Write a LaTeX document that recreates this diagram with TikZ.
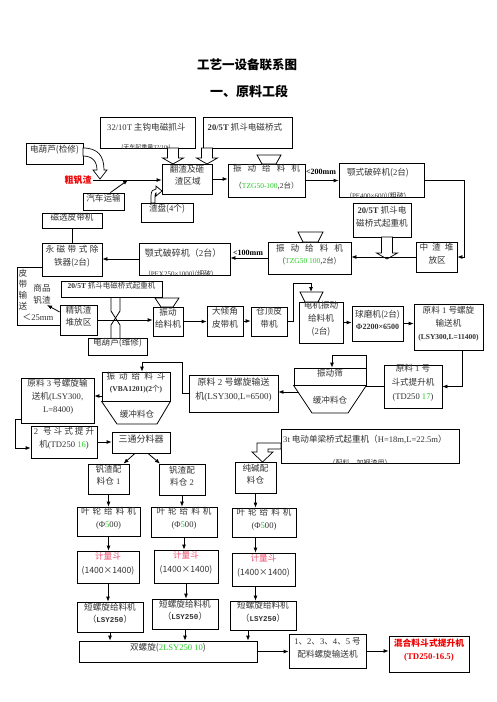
\documentclass[tikz,border=0pt]{standalone}
\usepackage{fontspec}
\setmainfont{Noto Sans CJK SC}
\newfontfamily\en{Liberation Serif}
\newfontfamily\mono{Liberation Mono}
\usetikzlibrary{arrows.meta,fit,calc}
\definecolor{grn}{RGB}{40,205,40}
\definecolor{pnk}{RGB}{238,80,110}
\definecolor{rd}{RGB}{240,0,0}
\definecolor{tx}{RGB}{50,50,50}
\newcommand\fs[2]{\fontsize{#1}{#2}\selectfont}
\newcommand\E[1]{{\en #1}}
\newcommand\G[1]{{\color{grn}#1}}
\newcommand\B[7][]{\node[bx,#1,fit={(#3,#4)(#5,#6)}] (#2) {#7};}
\newcommand\hdown[3]{\draw[hol] (#1-5.5,#2) -- (#1+5.5,#2) -- (#1+5.5,#3-6) -- (#1+10.5,#3-6) -- (#1,#3) -- (#1-10.5,#3-6) -- (#1-5.5,#3-6) -- cycle;}
\tikzset{
 bx/.style={draw, line width=0.8pt, inner sep=0pt, align=center, text=tx, font=\fs{8.6}{13}},
 txt/.style={inner sep=0pt, text=tx, font=\fs{8.6}{13}},
 arr/.style={-{Latex[length=5pt,width=4pt]}, line width=0.8pt},
 ln/.style={line width=0.8pt},
 hol/.style={draw, fill=white, line width=0.7pt},
 hop/.style={draw, fill=white, line width=0.8pt},
}
\begin{document}
\begin{tikzpicture}[x=1pt,y=-1pt]
\fill[white] (0,0) rectangle (496,702);
\useasboundingbox (0,0) rectangle (496,702);

% titles
\node[font=\fs{12.5}{14}\bfseries] (t1) at (247,65) {工艺一设备联系图};
\node[font=\fs{13}{14}\bfseries] (t2) at (249,91) {一、原料工段};

% top row
\B{A}{100}{117}{195}{148}{}
\node[txt,anchor=west] (Atx) at (107,127) {\E{32/10T} 主钩电磁抓斗};
\begin{scope}
\clip (100,117) rectangle (195,148);
\node[font=\fs{6}{7}, text=tx] (Acl) at (146,147.5) {(天车起重量\E{32/10t})};
\end{scope}
\B{B}{203}{117}{292}{148}{}
\node[txt] (Btx) at (245,127) {\E{\bfseries 20/5T} 抓斗电磁桥式};

\B{h1}{26}{143}{83}{164}{电葫芦(检修)}
\node[font=\fs{9}{10}\bfseries, text=rd, inner sep=1pt] (crude) at (78,180) {粗钒渣};
\B{car}{83}{193}{124}{210}{汽车运输}
\B{mb}{42}{213}{102}{228}{磁选皮带机}
\B[align=left, font=\fs{8.6}{12.5}]{flip}{162}{164}{212}{194}{翻渣及砸\\\,渣区域}
\B{pan}{141}{203}{193}{222}{渣盘(\E{4}个)}
\B[font=\fs{8.6}{16.5}]{vf1}{228}{164}{305}{197}{振\hspace{6pt}动\hspace{6pt}给\hspace{6pt}料\hspace{6pt}机\\{\fs{7.5}{9}（\G{\E{TZG50-100}},\E{2}台）}}
\B{jaw1}{339}{163}{424}{197}{}
\node[txt] (j1tx) at (378,173) {颚式破碎机(\E{2}台)};
\begin{scope}
\clip (339,163) rectangle (424,197);
\node[font=\fs{7}{8}, text=tx] (j1cl) at (378,196.5) {(\E{PE400×600})(粗破)};
\end{scope}
\node[font=\fs{8}{9}\en\bfseries, inner sep=0pt] (l200) at (321,172) {<200mm};

\B{cr2}{353}{203}{411}{237}{\E{\bfseries 20/5T} 抓斗电\\磁桥式起重机}
\B[align=left]{pile}{416}{242}{457}{272}{中\hspace{4pt}渣\hspace{4pt}堆\\\,放区}
\B[align=left,font=\fs{8.6}{12.5}]{vf2}{268}{242}{351}{274}{振\hspace{6pt}动\hspace{6pt}给\hspace{6pt}料\hspace{6pt}机\\{\fs{7.5}{9}(\G{\E{TZG50 100}},\E{2}台)}}
\node[font=\fs{8}{9}\en\bfseries, inner sep=0pt] (l100) at (248,253) {<100mm};
\B{jaw2}{139}{243}{230}{275}{}
\node[txt,font=\fs{9}{10}] (j2tx) at (183,253) {颚式破碎机（\E{2}台）};
\begin{scope}
\clip (139,243) rectangle (230,275);
\node[font=\fs{7}{8}, text=tx] (j2cl) at (181,274.5) {(\E{PEX250×1000})(细破)};
\end{scope}
\B{ir}{42}{243}{102}{276}{永\hspace{2.5pt}磁\hspace{2.5pt}带\hspace{2.5pt}式\hspace{2.5pt}除\\铁器(\E{2}台)}

% left column texts
\node[txt, align=center, font=\fs{8.6}{11}] (vt) at (23,290) {皮\\带\\输\\送};
\node[txt, align=center, font=\fs{8.6}{12}] (prod) at (42,294) {商品\\钒渣};
\node[txt, font=\fs{8.6}{10}] (lt25) at (38,317) {＜\E{25mm}};

\B[font=\fs{7.5}{9}]{cr3}{61}{281}{162}{297}{\E{\bfseries 20/5T} 抓斗电磁桥式起重机}
\B[font=\fs{8.6}{12.5}]{fine}{60}{305}{97}{335}{精钒渣\\堆放区}
\B{h2}{88}{338}{147}{355}{电葫芦(维修)}
\B[align=left, font=\fs{8.6}{12}]{vf3}{153}{307}{183}{336}{振动\\给料机}
\B{incl}{207}{306}{243}{336}{大倾角\\皮带机}
\B[align=left]{roof}{251}{307}{287}{336}{仓顶皮\\带机}
\B[align=left]{mvf}{299}{302}{343}{343}{电机振动\\给料机\\(\E{2}台)}
\B[align=left,font=\fs{8.6}{12}]{mill}{352}{306}{403}{341}{球磨机(\E{2}台)\\{\en\bfseries\fs{8}{9}Φ2200×6500}}
\B{sc1}{414}{304}{483}{350}{原料\E{ 1 }号螺旋\\输送机\\{\en\bfseries\fs{7.5}{9}(LSY300,L=11400)}}
\B[align=left,font=\fs{8.6}{14}]{el1}{384}{365}{442}{408}{原料\E{ 1 }号\\斗式提升机\\\E{(TD250 \G{17})}}

\B{scr}{294}{368}{366}{385}{振动筛}
\draw[hop] (scr.south west) -- (scr.south east) -- (348,413) -- (312,413) -- cycle;
\node[txt] (buf1) at (330,400) {缓冲料仓};

\B[align=left,font=\fs{9}{14}]{sc2}{189}{375}{278}{412}{原料\E{ 2 }号螺旋输送\\机\E{(LSY300,L=6500)}}
\B[font=\fs{8.6}{11.5}]{vhop}{102}{372}{170}{401}{振\hspace{4pt}动\hspace{4pt}给\hspace{4pt}料\hspace{4pt}斗\\{\fs{7.5}{9}\E{\bfseries(VBA1201)(2}个\E{\bfseries)}}}
\draw[hop] (vhop.south west) -- (vhop.south east) -- (157,424) -- (117,424) -- cycle;
\node[txt] (buf2) at (137,414) {缓冲料仓};
\B[align=left]{sc3}{21}{378}{94}{423}{原料\E{ 3 }号螺旋输\\送机\E{(LSY300,}\\\,\E{L=8400)}}
\B[align=left,font=\fs{8.6}{12.5}]{el2}{31}{426}{97}{458}{\E{2}\hspace{5pt}号\hspace{2pt}斗\hspace{2pt}式\hspace{2pt}提\hspace{2pt}升\\机\E{(TD250 \G{16})}}
\B[font=\fs{9}{10}]{tee}{112}{432}{170}{453}{三通分料器}

\B{cr4}{281}{429}{459}{463}{}
\node[txt,anchor=west] (c4tx) at (283,439) {\E{3t} 电动单梁桥式起重机（\E{H=18m,L=22.5m}）};
\begin{scope}
\clip (281,429) rectangle (459,463);
\node[font=\fs{7}{8}, text=tx] (c4cl) at (360,462.5) {（配料、加钢渣用）};
\end{scope}

\B[font=\fs{8.6}{12}]{bin1}{88}{464}{129}{494}{钒渣配\\料仓\E{ 1}}
\B[font=\fs{8.6}{12}]{bin2}{159}{464}{205}{495}{钒渣配\\料仓\E{ 2}}
\B[font=\fs{8.6}{12}]{bin3}{235}{462}{276}{493}{纯碱配\\料仓}

\B{rf1}{77}{507}{140}{536}{叶\hspace{3pt}轮\hspace{3pt}给\hspace{3pt}料\hspace{3pt}机\\\E{(Φ\G{5}00)}}
\B{rf2}{151}{507}{217}{537}{叶\hspace{3pt}轮\hspace{3pt}给\hspace{3pt}料\hspace{3pt}机\\\E{(Φ\G{5}00)}}
\B{rf3}{232}{508}{296}{537}{叶\hspace{3pt}轮\hspace{3pt}给\hspace{3pt}料\hspace{3pt}机\\\E{(Φ\G{5}00)}}

\B[font=\fs{8.6}{14}]{m1}{77}{551}{139}{583}{{\color{pnk}计量斗}\\(1400×1400)}
\B[font=\fs{8.6}{14}]{m2}{154}{550}{218}{583}{{\color{pnk}计量斗}\\(1400×1400)}
\B[font=\fs{8.6}{14}]{m3}{232}{553}{295}{586}{{\color{pnk}计量斗}\\(1400×1400)}

\B[font=\fs{8.6}{12.5}]{ss1}{77}{602}{143}{632}{短螺旋给料机\\（{\mono\bfseries\fs{7.5}{9}LSY250}）}
\B[font=\fs{8.6}{12.5}]{ss2}{152}{599}{218}{629}{短螺旋给料机\\（{\mono\bfseries\fs{7.5}{9}LSY250}）}
\B[font=\fs{8.6}{12.5}]{ss3}{230}{601}{296}{630}{短螺旋给料机\\（{\mono\bfseries\fs{7.5}{9}LSY250}）}

\B{dbl}{79}{641}{257}{662}{双螺旋(\G{\E{2LSY250 10}})}
\B[align=left]{conv}{289}{634}{366}{668}{\E{1}、\E{2}、\E{3}、\E{4}、\E{5} 号\\配料螺旋输送机}
\B[font=\fs{8.8}{13}\bfseries, text=rd]{mix}{389}{636}{469}{672}{混合料斗式提升机\\\E{\bfseries(TD250-16.5)}}

% hoppers
\draw[hop] (257,155) -- (281,155) -- (276,164) -- (262,164) -- cycle;
\draw[hop] (298,232) -- (323,232) -- (318,242) -- (303,242) -- cycle;
\draw[hop] (155,298) -- (179,298) -- (173,307) -- (161,307) -- cycle;
\draw[hop] (300,292) -- (323,292) -- (318,302) -- (305,302) -- cycle;

% hollow arrows
\hdown{173}{148}{164}
\hdown{207}{148}{164}
\hdown{387}{237}{259}
\draw[hol] (281,443) -- (257,443) -- (257,452) -- (252,452) -- (262.5,462) -- (273,452) -- (268,452) -- (268,449) -- (281,449) -- cycle;
\draw[hol] (83,148) .. controls (98,148) and (104,156) .. (104,170) -- (107,170) -- (100,179) -- (93,170) -- (97,170) .. controls (97,161) and (92,156) .. (83,156) -- cycle;
\draw[hol] (151,203) -- (151,196) .. controls (151,191) and (153,189) .. (156,189) -- (156,186) -- (162,191) -- (156,196) -- (156,193) .. controls (155.5,193) and (155,194) .. (155,196) -- (155,203) -- cycle;
\draw[ln] (111,297) -- (111,311) -- (120,325) -- (120,338);
\draw[ln] (120,297) -- (120,311) -- (111,325) -- (111,338);

% connectors
\coordinate (j1) at (128,180);
\draw[arr] (crude.east) -- (crude.east -| flip.west);
\draw[arr] ($(car.north east)+(-14,0)$) -- (j1);
\draw[arr] (flip.east) -- (flip.east -| vf1.west);
\draw[arr] (vf1.east) -- (vf1.east -| jaw1.west);
\draw[arr] (jaw1.east) -| ($(pile.east)+(7,0)$) -- (pile.east);
\draw[arr] (pile.west) -- (pile.west -| vf2.east);
\draw[arr] (vf2.west) -- (vf2.west -| jaw2.east);
\draw[arr] (jaw2.west) -- (jaw2.west -| ir.east);
\draw[ln] (mb.south) -- (mb.south |- ir.north);
\coordinate (lt) at (17,267);
\coordinate (lb) at (17,325);
\draw[ln] (lt -| ir.west) -- (lt) -- (lb) -- (lb -| fine.west);
\coordinate (pa) at (47,305);
\draw[arr] ($(fine.west)+(0,-8)$) -- (pa);
\draw[arr] (fine.east) -- (fine.east -| vf3.west);
\draw[arr] (vf3.east) -- (vf3.east -| incl.west);
\draw[arr] (incl.east) -- (incl.east -| roof.west);
\coordinate (mh) at (311,292);
\coordinate (mtop) at (311,283);
\draw[arr] (roof.east) -- ++(6,0) |- (mtop) -- (mh);
\draw[arr] (mvf.east) -- (mvf.east -| mill.west);
\draw[arr] (mill.east) -- (mill.east -| sc1.west);
\coordinate (s1b) at ($(sc1.south east)+(-21,0)$);
\draw[arr] (s1b) |- (el1.east);
\coordinate (sk) at (332,355);
\draw[arr] (el1.west) -- (el1.west -| scr.east) |- (sk) -- (sk |- scr.north);
\coordinate (tl) at (299,392);
\draw[arr] (tl) -- (tl -| sc2.east);
\coordinate (vk) at (142,362);
\draw[arr] (sc2.west) -- ++(-6,0) |- (vk) -- (vk |- vhop.north);
\coordinate (vw) at (102,396);
\draw[arr] (vw) -- (vw -| sc3.east);
\coordinate (s3) at (21,419);
\coordinate (e2w) at ($(el2.west)+(0,6)$);
\draw[arr] (s3) -- ++(-6,0) |- (e2w);
\draw[arr] (el2.east) -- (el2.east -| tee.west);
\draw[arr] ($(tee.south)+(-6,0)$) -- ($(bin1.north)+(15,0)$);
\draw[arr] ($(tee.south)+(7,0)$) -- ($(bin2.north)+(-22,0)$);
\draw[arr] (bin1.south) -- (bin1.south |- rf1.north);
\draw[arr] (bin2.south) -- (bin2.south |- rf2.north);
\draw[arr] (bin3.south) -- (bin3.south |- rf3.north);
\draw[arr] (rf1.south) -- (rf1.south |- m1.north);
\draw[arr] (rf2.south) -- (rf2.south |- m2.north);
\draw[arr] (rf3.south -| bin3.south) -- (bin3.south |- m3.north);
\draw[arr] (m1.south) -- (m1.south |- ss1.north);
\draw[arr] (m2.south) -- (m2.south |- ss2.north);
\draw[arr] (m3.south -| bin3.south) -- (bin3.south |- ss3.north);
\draw[arr] (ss1.south) -- (ss1.south |- dbl.north);
\draw[arr] (ss2.south) -- (ss2.south |- dbl.north);
\coordinate (q3) at ($(ss3.south)+(-15,0)$);
\draw[arr] (q3) -- (q3 |- dbl.north);
\draw[arr] (dbl.east) -- (dbl.east -| conv.west);
\draw[arr] (conv.east) -- (conv.east -| mix.west);
\end{tikzpicture}
\end{document}
